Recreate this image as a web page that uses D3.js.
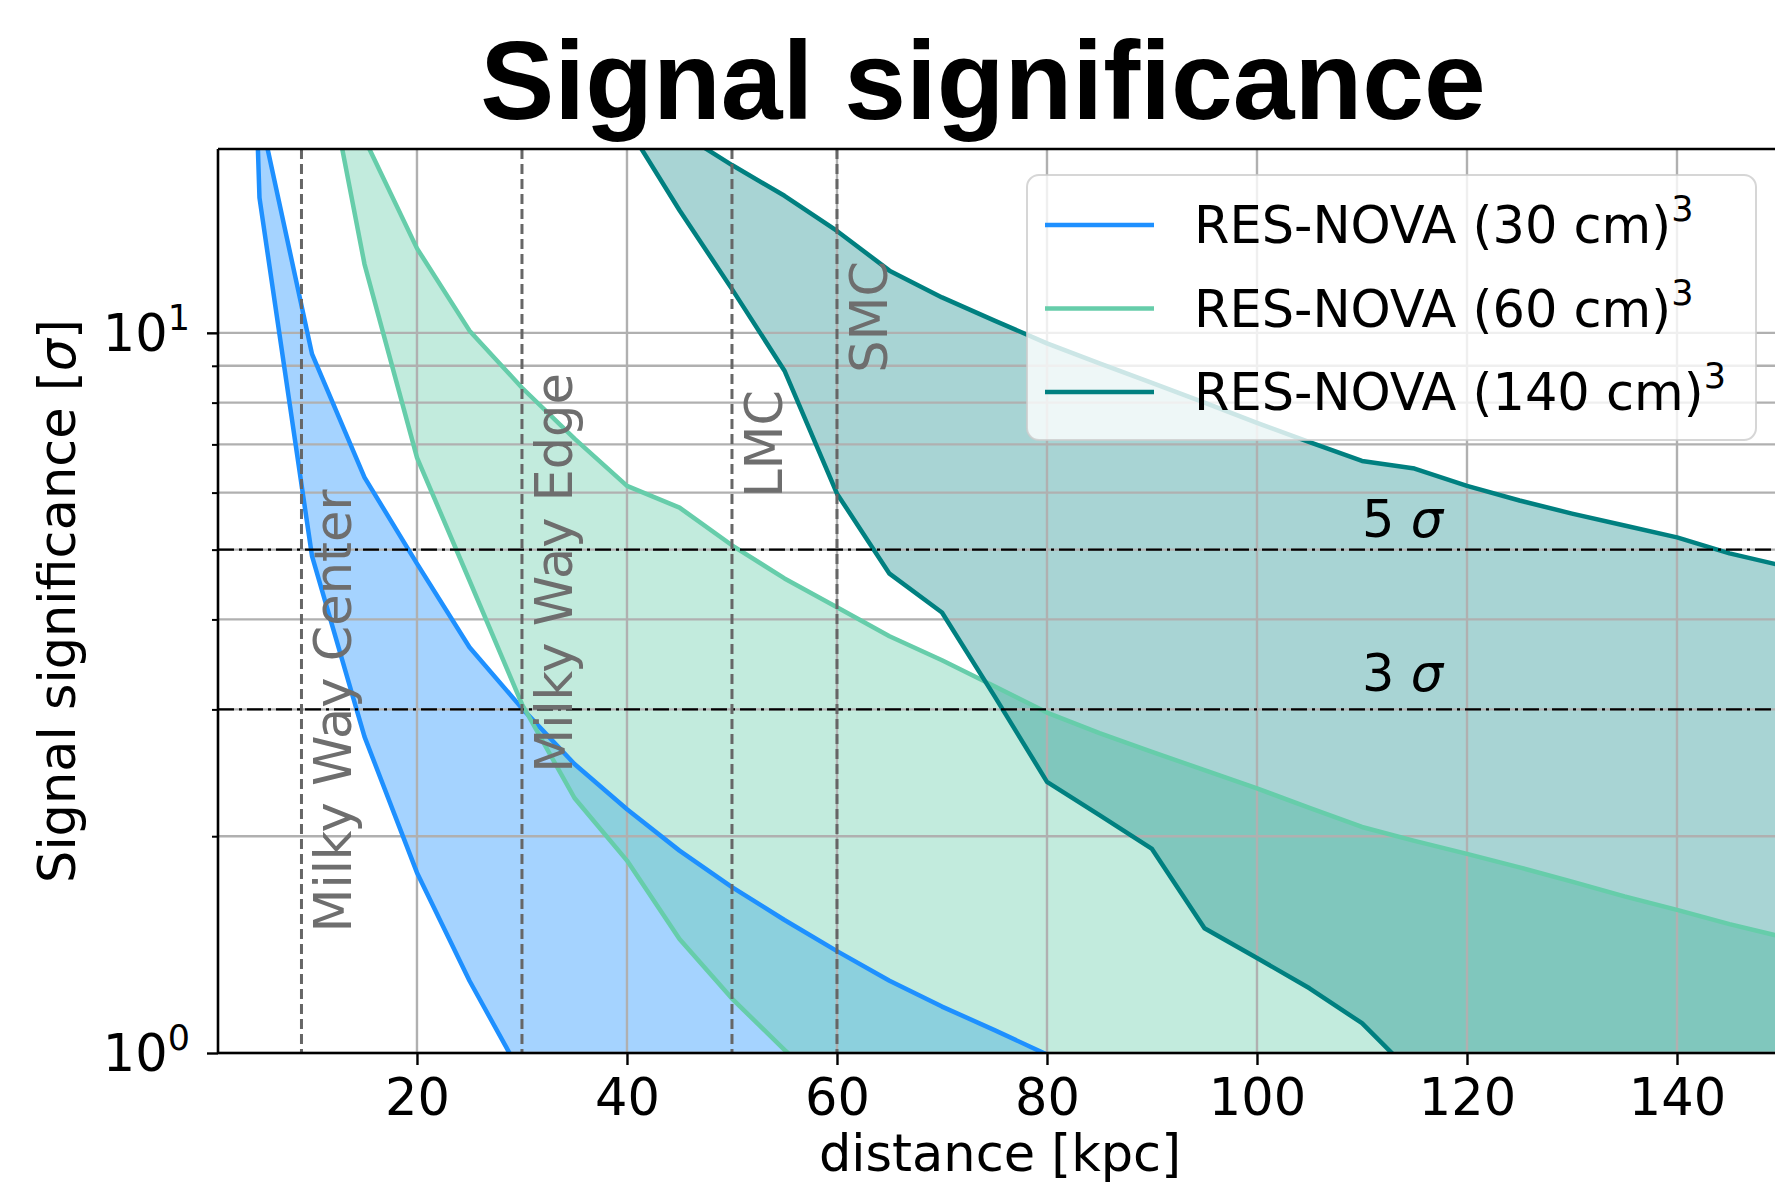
<!DOCTYPE html>
<html>
<head>
<meta charset="utf-8">
<script src="https://cdn.jsdelivr.net/npm/d3@7"></script>
<style>
  body { margin: 0; background: #fff; }
  text { font-family: "DejaVu Sans", sans-serif; }
</style>
</head>
<body>
<div id="wrapper"></div>
<script>
// values (distance in kpc, significance in sigma)
const blueUpperDist = [1, 5, 10, 15, 20, 25, 30, 35, 40, 45, 50, 55, 60, 65, 70, 75, 80, 85]
const blueUpper = [1300, 20.3, 9.35, 6.3, 4.78, 3.66, 3.01, 2.52, 2.18, 1.91, 1.70, 1.53, 1.385, 1.26, 1.16, 1.076, 0.995, 0.93]
const blueLowerDist = [1, 5, 10, 15, 20, 25, 30]
const blueLower = [1000, 15.4, 4.9, 2.75, 1.78, 1.26, 0.93]

const mintUpperDist = [10, 15, 20, 25, 30, 35, 40, 45, 50, 55, 60, 65, 70, 75, 80, 85, 90, 95, 100, 105, 110, 115, 120, 125, 130, 135, 140, 145, 150]
const mintUpper = [40, 18.6, 13.1, 10.07, 8.39, 7.13, 6.13, 5.72, 5.07, 4.56, 4.16, 3.79, 3.51, 3.23, 2.97, 2.78, 2.62, 2.47, 2.33, 2.19, 2.06, 1.97, 1.89, 1.81, 1.73, 1.65, 1.58, 1.51, 1.45]
const mintLowerDist = [10, 15, 20, 25, 30, 35, 40, 45, 50, 55, 60]
const mintLower = [29.7, 12.46, 6.71, 4.53, 3.05, 2.26, 1.85, 1.44, 1.19, 1.01, 0.87]

const tealUpperDist = [40, 45, 50, 55, 60, 65, 70, 75, 80, 85, 90, 95, 100, 105, 110, 115, 120, 125, 130, 135, 140, 145, 150]
const tealUpper = [25, 19.0, 17.1, 15.5, 13.85, 12.2, 11.2, 10.4, 9.67, 9.07, 8.52, 8.0, 7.5, 7.05, 6.64, 6.48, 6.13, 5.85, 5.61, 5.40, 5.20, 4.94, 4.75]
const tealLowerDist = [40, 45, 50, 55, 60, 65, 70, 75, 80, 85, 90, 95, 100, 105, 110, 115]
const tealLower = [19.4, 14.8, 11.5, 8.86, 5.98, 4.63, 4.09, 3.13, 2.38, 2.14, 1.92, 1.49, 1.355, 1.23, 1.10, 0.93]

const seriesNames = ['RES-NOVA (30 cm)', 'RES-NOVA (60 cm)', 'RES-NOVA (140 cm)']
const seriesColors = ['#1e90ff', '#66cdaa', '#008080']

const markerNames = ['Milky Way Center', 'Milky Way Edge', 'LMC', 'SMC']
const markerDist = [9, 30, 50, 60]
const markerLabelY = [1.47, 2.45, 5.9, 8.8]

const sigmaLevels = [3, 5]
const sigmaLabelY = [3.18, 5.2]
const sigmaLabelX = 110

const xTicks = [20, 40, 60, 80, 100, 120, 140]
const yMajor = [1, 10]
const yMinor = [2, 3, 4, 5, 6, 7, 8, 9]

function drawChart() {
	const dimensions = {
		width: 1775,
		height: 1185,
		margin: { top: 149, right: -7, bottom: 132, left: 218 },
	}
	dimensions.boundedWidth = dimensions.width - dimensions.margin.left - dimensions.margin.right
	dimensions.boundedHeight = dimensions.height - dimensions.margin.top - dimensions.margin.bottom

	const wrapper = d3.select('#wrapper')
		.append('svg')
			.attr('width', dimensions.width)
			.attr('height', dimensions.height)

	wrapper.append('text')
		.attr('x', 983)
		.attr('y', 119)
		.attr('text-anchor', 'middle')
		.style('font-family', '"Liberation Sans", Arial, sans-serif')
		.style('font-weight', 'bold')
		.style('font-size', '111px')
		.text('Signal significance')

	const bounds = wrapper.append('g')
		.attr('transform', `translate(${dimensions.margin.left},${dimensions.margin.top})`)

	bounds.append('clipPath')
		.attr('id', 'plot-clip')
		.append('rect')
			.attr('width', dimensions.boundedWidth)
			.attr('height', dimensions.boundedHeight)

	const xScale = d3.scaleLinear()
		.domain([1.05, 150])
		.range([0, dimensions.boundedWidth])

	const yScale = d3.scaleLog()
		.domain([1, 18])
		.range([dimensions.boundedHeight, 0])

	const fillLayer = bounds.append('g').attr('clip-path', 'url(#plot-clip)')

	const lineGenerator = d3.line()
		.x(d => xScale(d[0]))
		.y(d => yScale(d[1]))

	const bands = [
		{ upX: blueUpperDist, up: blueUpper, loX: blueLowerDist, lo: blueLower, alpha: 0.4 },
		{ upX: mintUpperDist, up: mintUpper, loX: mintLowerDist, lo: mintLower, alpha: 0.4 },
		{ upX: tealUpperDist, up: tealUpper, loX: tealLowerDist, lo: tealLower, alpha: 0.34 },
	]
	const floor = yScale.domain()[0] * 0.9

	// fills
	bands.forEach((b, i) => {
		const upPts = b.upX.map((x, j) => [x, b.up[j]])
		const loPts = b.loX.map((x, j) => [x, b.lo[j]])
		const poly = upPts
			.concat([[b.upX[b.upX.length - 1], floor], [b.loX[b.loX.length - 1], floor]])
			.concat(loPts.slice().reverse())
		fillLayer.append('path')
			.attr('d', lineGenerator(poly) + 'Z')
			.attr('fill', seriesColors[i])
			.attr('fill-opacity', b.alpha)
			.attr('stroke', 'none')
	})

	// grid (above the fills, below the lines)
	const grid = bounds.append('g')
		.attr('stroke', '#b0b0b0')
		.attr('stroke-width', 2.4)
	grid.selectAll('.gx').data(xTicks).join('line')
		.attr('x1', d => xScale(d)).attr('x2', d => xScale(d))
		.attr('y1', 0).attr('y2', dimensions.boundedHeight)
	grid.selectAll('.gy').data(yMajor.concat(yMinor)).join('line')
		.attr('x1', 0).attr('x2', dimensions.boundedWidth)
		.attr('y1', d => yScale(d)).attr('y2', d => yScale(d))

	const lineLayer = bounds.append('g').attr('clip-path', 'url(#plot-clip)')

	// curves
	bands.forEach((b, i) => {
		[[b.upX, b.up], [b.loX, b.lo]].forEach(([xs, ys]) => {
			lineLayer.append('path')
				.attr('d', lineGenerator(xs.map((x, j) => [x, ys[j]])))
				.attr('fill', 'none')
				.attr('stroke', seriesColors[i])
				.attr('stroke-width', 4.5)
				.attr('stroke-linejoin', 'round')
		})
	})

	// sigma levels
	lineLayer.selectAll('.sigma').data(sigmaLevels).join('line')
		.attr('x1', 0).attr('x2', dimensions.boundedWidth)
		.attr('y1', d => yScale(d)).attr('y2', d => yScale(d))
		.attr('stroke', '#000')
		.attr('stroke-width', 2.2)
		.attr('stroke-dasharray', '16,5,3,5')

	sigmaLevels.forEach((s, i) => {
		const t = bounds.append('text')
			.attr('x', xScale(sigmaLabelX))
			.attr('y', yScale(sigmaLabelY[i]))
			.style('font-size', '51px')
			.text(s + ' ')
		t.append('tspan').style('font-style', 'italic').text('σ')
	})

	// reference distances
	lineLayer.selectAll('.marker').data(markerDist).join('line')
		.attr('x1', d => xScale(d)).attr('x2', d => xScale(d))
		.attr('y1', 0).attr('y2', dimensions.boundedHeight)
		.attr('stroke', '#666')
		.attr('stroke-width', 3)
		.attr('stroke-dasharray', '10,5')

	markerDist.forEach((d, i) => {
		bounds.append('text')
			.attr('transform', `translate(${xScale(d) + 50},${yScale(markerLabelY[i])}) rotate(-90)`)
			.attr('fill', '#6e6e6e')
			.style('font-size', '51px')
			.text(markerNames[i])
	})

	// spines
	const spines = bounds.append('g').attr('stroke', '#000').attr('stroke-width', 2.6)
	spines.append('line').attr('x1', 0).attr('x2', 0).attr('y1', 0).attr('y2', dimensions.boundedHeight)
	spines.append('line').attr('x1', 0).attr('x2', dimensions.boundedWidth).attr('y1', 0).attr('y2', 0)
	spines.append('line').attr('x1', 0).attr('x2', dimensions.boundedWidth)
		.attr('y1', dimensions.boundedHeight).attr('y2', dimensions.boundedHeight)

	// axes
	const xAxisGenerator = d3.axisBottom(xScale)
		.tickValues(xTicks)
		.tickSize(12)
		.tickPadding(14)
		.tickFormat(d3.format('d'))
	const xAxis = bounds.append('g')
		.attr('transform', `translate(0,${dimensions.boundedHeight})`)
		.call(xAxisGenerator)
	xAxis.select('.domain').remove()
	xAxis.selectAll('line').attr('stroke-width', 2.4)
	xAxis.selectAll('text')
		.style('font-size', '51px')
		.style('font-family', '"DejaVu Sans", sans-serif')
		.attr('fill', '#000')

	const yMinorAxis = bounds.append('g')
		.call(d3.axisLeft(yScale).tickValues(yMinor).tickSize(6).tickFormat(() => ''))
	yMinorAxis.select('.domain').remove()
	yMinorAxis.selectAll('line').attr('stroke-width', 2)

	const yAxis = bounds.append('g')
		.call(d3.axisLeft(yScale).tickValues(yMajor).tickSize(11).tickFormat(() => ''))
	yAxis.select('.domain').remove()
	yAxis.selectAll('line').attr('stroke-width', 2.4)

	yMajor.forEach(v => {
		const t = bounds.append('text')
			.attr('x', -28)
			.attr('y', yScale(v) + 18)
			.attr('text-anchor', 'end')
			.style('font-size', '51px')
		t.append('tspan').text('10')
		t.append('tspan')
			.attr('dy', -21)
			.style('font-size', '35px')
			.text(Math.round(Math.log10(v)))
	})

	bounds.append('text')
		.attr('x', 1000 - dimensions.margin.left)
		.attr('y', 1171 - dimensions.margin.top)
		.attr('text-anchor', 'middle')
		.style('font-size', '51px')
		.text('distance [kpc]')

	const yLabel = bounds.append('text')
		.attr('transform', `translate(${75 - dimensions.margin.left},${dimensions.boundedHeight / 2}) rotate(-90)`)
		.attr('text-anchor', 'middle')
		.style('font-size', '51px')
		.text('Signal significance [')
	yLabel.append('tspan').style('font-style', 'italic').text('σ')
	yLabel.append('tspan').text(']')

	// legend
	const legend = wrapper.append('g')
		.attr('transform', 'translate(1027,175)')
	legend.append('rect')
		.attr('width', 729)
		.attr('height', 265)
		.attr('rx', 12)
		.attr('fill', '#fff')
		.attr('fill-opacity', 0.8)
		.attr('stroke', '#cccccc')
		.attr('stroke-opacity', 0.8)
		.attr('stroke-width', 2)

	seriesNames.forEach((name, i) => {
		const y = 50 + i * 83.5
		legend.append('line')
			.attr('x1', 18).attr('x2', 127)
			.attr('y1', y).attr('y2', y)
			.attr('stroke', seriesColors[i])
			.attr('stroke-width', 4.5)
		const t = legend.append('text')
			.attr('x', 167)
			.attr('y', y + 18)
			.style('font-size', '51px')
		t.append('tspan').text(name)
		t.append('tspan')
			.attr('dy', -22)
			.style('font-size', '35px')
			.text('3')
	})
}
drawChart()
</script>
</body>
</html>
